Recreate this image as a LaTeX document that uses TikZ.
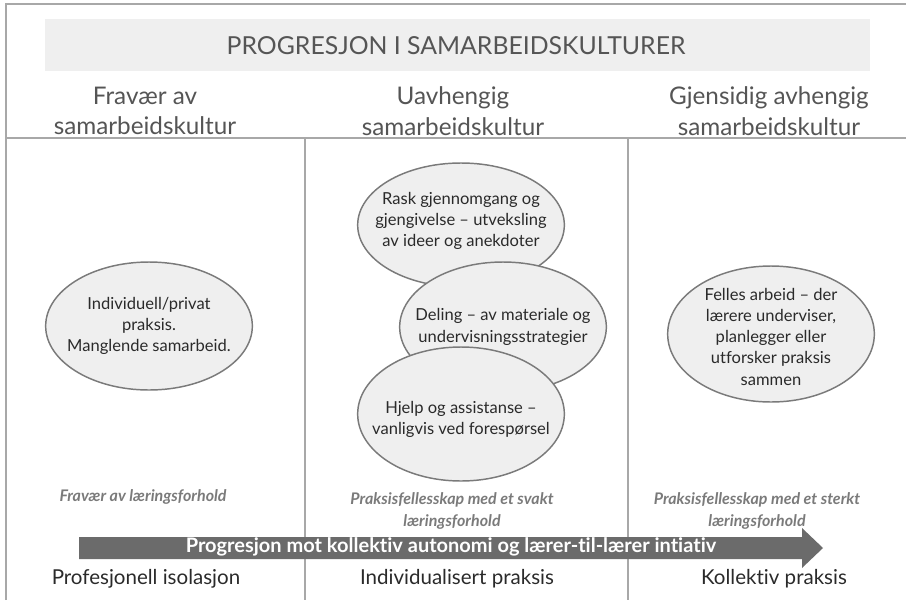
\documentclass[tikz,border=0pt]{standalone}
\usepackage{fontspec}
\setmainfont{Lato}[Ligatures=NoCommon]
\usetikzlibrary{shapes.geometric}
\definecolor{boxgray}{HTML}{EFEFEF}
\definecolor{frameline}{HTML}{A8A8A8}
\definecolor{ellfill}{HTML}{EFEFEF}
\definecolor{ellline}{HTML}{7A7A7A}
\definecolor{headtxt}{HTML}{555555}
\definecolor{bodytxt}{HTML}{2A2A2A}
\definecolor{labtxt}{HTML}{7A7A7A}
\definecolor{arrowgray}{HTML}{6B6B6B}
\begin{document}
\begin{tikzpicture}[x=0.75pt,y=-0.75pt,
  bub/.style={ellipse,draw=ellline,fill=ellfill,line width=1.1pt,minimum width=155pt,inner sep=0pt},
  bubtext/.style={align=center,inner sep=0pt,font=\fontsize{12.4}{15.9}\selectfont,text=bodytxt},
  colhead/.style={align=center,font=\fontsize{18.2}{23}\selectfont,text=headtxt},
  lab/.style={align=center,font=\fontsize{12}{16.5}\selectfont\bfseries\itshape,text=labtxt},
  foot/.style={font=\fontsize{15.4}{18}\selectfont,text=bodytxt},
  divider/.style={draw=frameline,line width=1.1pt}]
\useasboundingbox (0,0) rectangle (906,600);
% frame and dividers
\draw[divider] (6,600) -- (6,4) -- (906,4);
\draw[divider] (6,138) -- (906,138);
\draw[divider] (305,138) -- (305,600);
\draw[divider] (628,138) -- (628,600);
% title
\fill[boxgray] (45,19) rectangle (870,71);
\node[font=\fontsize{18.6}{22}\selectfont,text=headtxt] (title) at (456,46) {PROGRESJON I SAMARBEIDSKULTURER};
% column heads
\node[colhead] (h1) at (145,111) {Fravær av\\samarbeidskultur};
\node[colhead] (h2) at (453,111) {Uavhengig\\samarbeidskultur};
\node[colhead] (h3) at (769,111) {Gjensidig avhengig\\samarbeidskultur};
% bubbles
\node[bub,minimum height=96pt] (e1) at (149,326) {};
\node[bubtext] (e1t) at (e1) {Individuell/privat\\praksis.\\Manglende samarbeid.};
\node[bub,minimum height=93pt] (m1) at (461,225) {};
\node[bubtext] (m1t) at ([yshift=3pt]m1.center) {Rask gjennomgang og\\gjengivelse – utveksling\\av ideer og anekdoter};
\node[bub,minimum height=97.5pt] (m2) at (503,327) {};
\node[bubtext] (m2t) at (m2) {Deling – av materiale og\\undervisningsstrategier};
\node[bub,minimum height=100.5pt] (m3) at (461,414) {};
\node[bubtext] (m3t) at ([yshift=-4pt]m3.center) {Hjelp og assistanse –\\vanligvis ved forespørsel};
\node[bub,minimum height=102pt] (e3) at (771,334) {};
\node[bubtext] (e3t) at ([yshift=-2pt]e3.center) {Felles arbeid – der\\lærere underviser,\\planlegger eller\\utforsker praksis\\sammen};
% italic labels
\node[lab] (l1) at (143,497) {Fravær av læringsforhold};
\node[lab,anchor=north] (l2) at (452,488) {Praksisfellesskap med et svakt\\læringsforhold};
\node[lab,anchor=north] (l3) at (757,488) {Praksisfellesskap med et sterkt\\læringsforhold};
% progression arrow
\fill[arrowgray] (79,537) -- (802,537) -- (802,528) -- (823,548) -- (802,568) -- (802,559) -- (79,559) -- cycle;
\node[font=\fontsize{15}{17}\selectfont\bfseries,text=white] (arr) at (451,547) {Progresjon mot kollektiv autonomi og lærer-til-lærer intiativ};
% bottom labels
\node[foot] (f1) at (146,579) {Profesjonell isolasjon};
\node[foot] (f2) at (457,579) {Individualisert praksis};
\node[foot] (f3) at (774,579) {Kollektiv praksis};
\end{tikzpicture}
\end{document}
